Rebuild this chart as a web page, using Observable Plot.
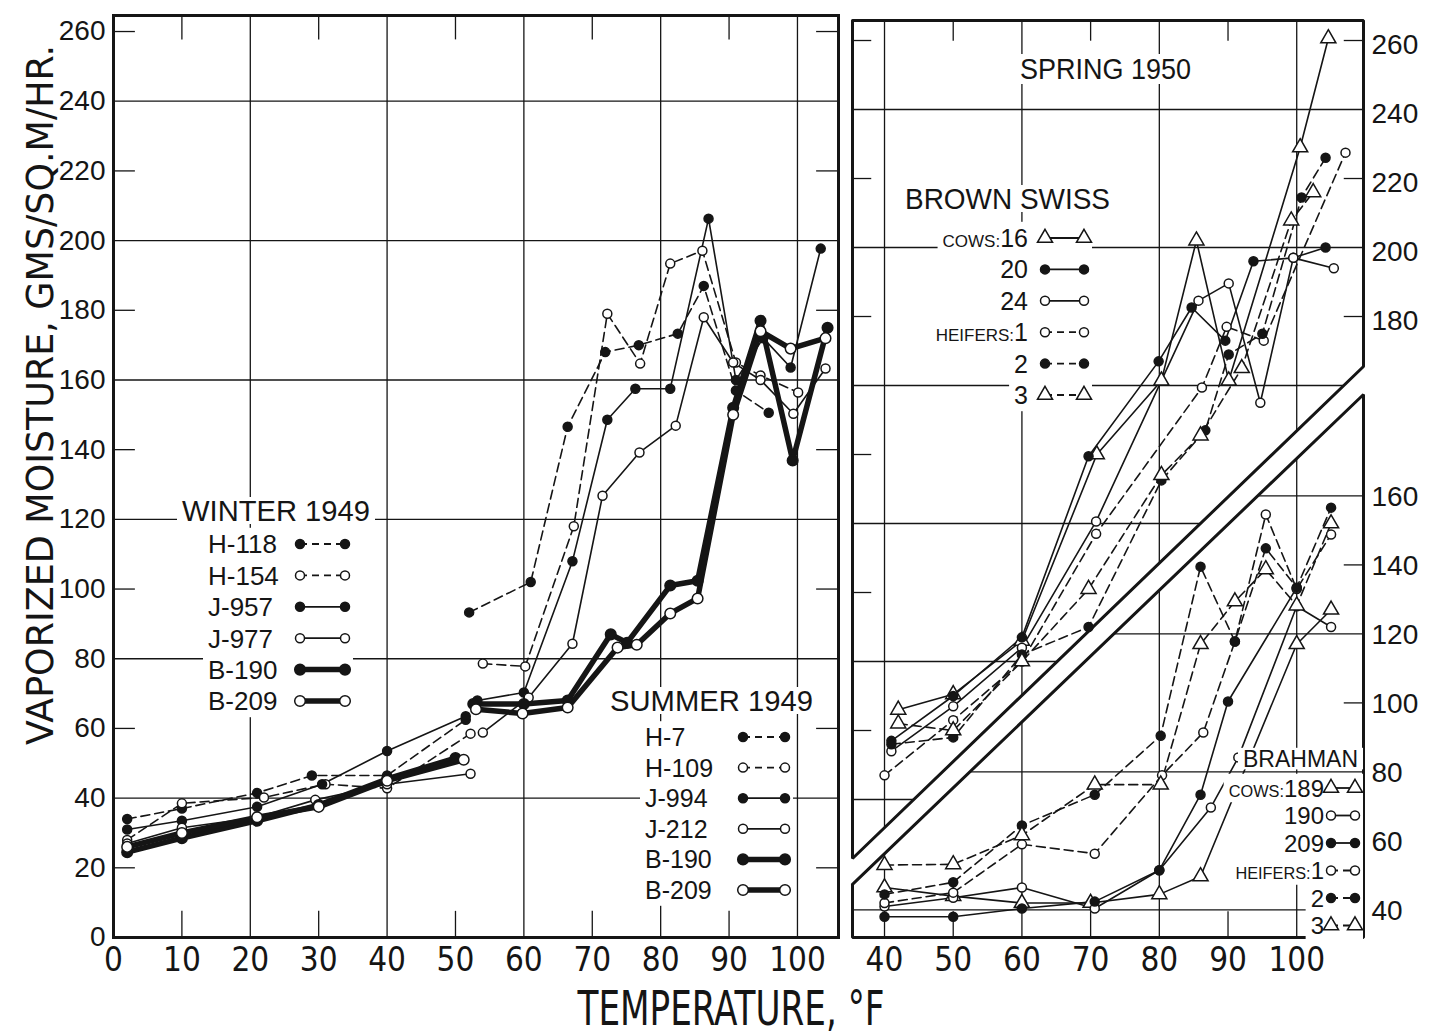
<!DOCTYPE html>
<html>
<head>
<meta charset="utf-8">
<title>Vaporized moisture and air temperature</title>
<script src="https://cdn.jsdelivr.net/npm/d3@7"></script>
<script src="https://cdn.jsdelivr.net/npm/@observablehq/plot@0.6"></script>
<style>
  html, body { margin: 0; padding: 0; background: #fff; }
  #chart { position: relative; width: 1437px; height: 1035px; overflow: hidden; background: #fff; }
  #chart > svg { position: absolute; top: 0; }
</style>
</head>
<body>
<div id="chart"></div>
<script>
// Vaporized moisture (g / sq m / hr) from the skin of individual cattle
// against air temperature (°F). Pairs are [temperature, moisture].

// ---- Winter 1949 ----
const winterNames = ["H-118", "H-154", "J-957", "J-977", "B-190", "B-209"];
const winterH118 = [[2,34],[10,37],[21,41.5],[29,46.5],[40,46.5],[51.5,62.5]];
const winterH154 = [[2,28],[10,38.5],[22,40.2],[31,44],[40,42.8],[52.2,58.5]];
const winterJ957 = [[2,31],[10,33.5],[21,37.5],[30.5,44],[40,53.5],[51.5,63.5]];
const winterJ977 = [[2,27],[10,31.5],[21,34.5],[29.5,39.5],[40,44],[52.2,47]];
const winterB190 = [[2,24.5],[10,28.5],[21,33.5],[30,38],[40,45.5],[50,51.5]];
const winterB209 = [[2,26],[10,30],[21,34.5],[30,37.5],[40,45],[51.2,51]];

// ---- Summer 1949 ----
const summerNames = ["H-7", "H-109", "J-994", "J-212", "B-190", "B-209"];
const summerH7   = [[52,93.3],[61,102],[66.4,146.6],[71.9,168],[76.8,170],[82.5,173.3],[86.3,187],[91,157],[95.8,150.6]];
const summerH109 = [[54,78.6],[60.2,77.8],[67.3,118],[72.2,179],[77,164.7],[81.4,193.4],[86.1,197.1],[91,165],[94.6,161.3],[100.1,156.4]];
const summerJ994 = [[53.2,68],[60,70.3],[67.1,108],[72.2,148.6],[76.3,157.5],[81.4,157.5],[87,206.3],[91,160],[95,172],[99,163.6],[103.4,197.7]];
const summerJ212 = [[54,58.8],[60.7,68.9],[67.1,84.3],[71.5,126.8],[76.9,139.2],[82.2,146.9],[86.3,178],[90.6,165],[94.6,160],[99.4,150.3],[104.1,163.3]];
const summerB190 = [[52.6,67],[60,67],[66.4,68],[72.7,87],[75.1,84.6],[81.4,101],[85.4,102.4],[90.6,152],[94.6,177],[99.3,136.9],[104.4,175]];
const summerB209 = [[53,65.5],[59.8,64.3],[66.4,66],[73.7,83.2],[76.5,84],[81.4,93],[85.4,97.3],[90.6,150],[94.6,174],[99,169],[104.1,172]];

// ---- Spring 1950, Brown Swiss ----
const swissNames  = ["16", "20", "24", "1", "2", "3"];
const swissGroups = ["COWS:", "", "", "HEIFERS:", "", ""];
const swissCow16    = [[42,66],[50,70.5],[60,86],[70.9,140],[80.3,161.4],[85.4,202],[90.1,161.4],[100.5,229],[104.6,260.6]];
const swissCow20    = [[41,57],[50,70],[60,87],[69.7,139.5],[79.9,167],[84.7,182.6],[89.6,173],[93.7,196],[99.5,197],[104.2,200]];
const swissCow24    = [[41,54],[50,67],[60,84],[70.8,120.6],[85.7,184.6],[90.1,189.6],[94.7,155],[99.5,197],[105.4,194]];
const swissHeifer1  = [[40,47],[50,63],[60,80],[70.8,117],[86.2,159.4],[89.8,177],[95.2,173],[107.1,227.5]];
const swissHeifer2  = [[41,56],[50,58],[60,82],[69.7,90],[80.3,132.5],[86.7,147],[90.1,169],[95,175],[100.7,214.5],[104.2,226]];
const swissHeifer3  = [[42,62],[50,60],[60,80],[69.7,101],[80.3,134],[86,145.5],[92,165],[99.2,207.8],[102.4,216]];

// ---- Spring 1950, Brahman ----
const brahmanNames  = ["189", "190", "209", "1", "2", "3"];
const brahmanGroups = ["COWS:", "", "", "HEIFERS:", "", ""];
const brahmanCow189   = [[40,46.5],[50,44],[60,42],[70,42],[80,44.5],[86,49.7],[100,117],[105,127]];
const brahmanCow190   = [[40,41],[50,43.5],[60,46.5],[70.6,40.4],[80,51.5],[87.5,69.7],[91.5,84.2],[100,128],[105,122]];
const brahmanCow209   = [[40,38],[50,38],[60,40.4],[70.6,42.4],[80,51.5],[86,73.4],[90,100.4],[100,133.4]];
const brahmanHeifer1  = [[40,42],[50,45],[60,59],[70.6,56.3],[80.4,79],[86.4,91.4],[91,117.8],[95.5,154.6],[100,133],[105,148.8]];
const brahmanHeifer2  = [[40,44.5],[50,48],[60,64.5],[70.6,73.4],[80.2,90.5],[86,139.5],[91,117.8],[95.5,144.8],[100,133.4],[105,156.6]];
const brahmanHeifer3  = [[40,53],[50,53.2],[60,61.6],[70.6,76.3],[80.2,76.3],[86,117],[91,129.4],[95.5,138.7],[100,128.2],[105,152]];

// Axis ticks
const leftYTicks   = [0,20,40,60,80,100,120,140,160,180,200,220,240,260];
const leftXTicks   = [0,10,20,30,40,50,60,70,80,90,100];
const springTicks  = [180,200,220,240,260];
const brahmanTicks = [40,60,80,100,120,140,160];
const rightXTicks  = [40,50,60,70,80,90,100];

// The Brahman section sits lower on the shared right-hand scale
const brahmanShift = 32;

// Diagonal band separating the Brown Swiss (upper) and Brahman (lower) sections
const dividerTop    = [[35.34, 22.9], [109.72, 165.5]];
const dividerBottom = [[35.34, 15.4], [109.72, 157.4]];

// ---- drawing styles ----
const INK = "#151515";
const SANS = '"Liberation Sans", Arial, Helvetica, sans-serif';
const NARROW = '"Liberation Sans Narrow", "Arial Narrow", "DejaVu Sans Condensed", sans-serif';

const kinds = {
  filledDashed:   {marker: "filled",   dash: true,  heavy: false},
  openDashed:     {marker: "open",     dash: true,  heavy: false},
  filledSolid:    {marker: "filled",   dash: false, heavy: false},
  openSolid:      {marker: "open",     dash: false, heavy: false},
  filledHeavy:    {marker: "filled",   dash: false, heavy: true},
  openHeavy:      {marker: "open",     dash: false, heavy: true},
  triangleSolid:  {marker: "triangle", dash: false, heavy: false},
  triangleDashed: {marker: "triangle", dash: true,  heavy: false}
};
const seasonKinds  = ["filledDashed", "openDashed", "filledSolid", "openSolid", "filledHeavy", "openHeavy"];
const swissKinds   = ["triangleSolid", "filledSolid", "openSolid", "openDashed", "filledDashed", "triangleDashed"];
const brahmanKinds = ["triangleSolid", "openSolid", "filledSolid", "openDashed", "filledDashed", "triangleDashed"];

const winterValues  = [winterH118, winterH154, winterJ957, winterJ977, winterB190, winterB209];
const summerValues  = [summerH7, summerH109, summerJ994, summerJ212, summerB190, summerB209];
const swissValues   = [swissCow16, swissCow20, swissCow24, swissHeifer1, swissHeifer2, swissHeifer3];
const brahmanValues = [brahmanCow189, brahmanCow190, brahmanCow209, brahmanHeifer1, brahmanHeifer2, brahmanHeifer3];

function markerRadius(k) { return k.marker === "triangle" ? 5.6 : (k.heavy ? 5.3 : 4.5); }

// One polyline plus its markers per animal
function seriesMarks(values, kindList, shift = 0) {
  const lines = [], dots = [];
  values.forEach((pts, i) => {
    const k = kinds[kindList[i]];
    const rows = pts.map(([t, v]) => ({t, v: v - shift}));
    lines.push(Plot.line(rows, {
      x: "t", y: "v", stroke: INK,
      strokeWidth: k.heavy ? 5.5 : 1.6,
      strokeDasharray: k.dash ? "9,5" : undefined,
      strokeLinejoin: "round"
    }));
    dots.push(Plot.dot(rows, {
      x: "t", y: "v", r: markerRadius(k),
      symbol: k.marker === "triangle" ? "triangle" : "circle",
      fill: k.marker === "filled" ? INK : "white",
      stroke: INK, strokeWidth: 1.5
    }));
  });
  return [...lines, ...dots];
}

const chart = d3.select("#chart");

// ---------- Left panel: winter and summer 1949 ----------
const leftX = [0, 106], leftY = [0, 264.6];
const leftMajorY = [40,80,120,160,200,240], leftMinorY = [20,60,100,140,180,220,260];
const leftMajorX = [20,40,60,80,100], leftMinorX = [10,30,50,70,90];

const left = Plot.plot({
  width: 850, height: 1035,
  marginLeft: 113, marginRight: 12, marginTop: 15, marginBottom: 98,
  x: {domain: leftX}, y: {domain: leftY},
  style: {fontFamily: SANS, color: INK, background: "transparent", overflow: "visible"},
  marks: [
    Plot.ruleY(leftMajorY, {stroke: INK, strokeWidth: 1.3}),
    Plot.ruleX(leftMajorX, {stroke: INK, strokeWidth: 1.3}),
    Plot.ruleY(leftMinorY, {x1: leftX[0], x2: leftX[0] + 3.2, stroke: INK, strokeWidth: 1.3}),
    Plot.ruleY(leftMinorY, {x1: leftX[1] - 3.2, x2: leftX[1], stroke: INK, strokeWidth: 1.3}),
    Plot.ruleX(leftMinorX, {y1: 0, y2: 7.5, stroke: INK, strokeWidth: 1.3}),
    Plot.ruleX(leftMinorX, {y1: leftY[1] - 7, y2: leftY[1], stroke: INK, strokeWidth: 1.3}),
    Plot.frame({stroke: INK, strokeWidth: 3}),
    ...seriesMarks(winterValues, seasonKinds),
    ...seriesMarks(summerValues, seasonKinds),
    Plot.axisY({ticks: leftYTicks, tickSize: 0, tickPadding: 8, fontSize: 28, label: null}),
    Plot.axisX({ticks: leftXTicks, tickSize: 0, tickPadding: 10, fontSize: 33, fontFamily: NARROW, label: null})
  ]
});
left.style.left = "0px";
chart.node().appendChild(left);

// ---------- Right panel: spring 1950 ----------
const rightX = [35.34, 109.72], rightY = [0, 265.8];
const [x0, x1] = rightX, yTop = rightY[1];
const lineAt = (seg, t) => seg[0][1] + (t - seg[0][0]) * (seg[1][1] - seg[0][1]) / (seg[1][0] - seg[0][0]);
const lineX = (seg, u) => seg[0][0] + (u - seg[0][1]) * (seg[1][0] - seg[0][0]) / (seg[1][1] - seg[0][1]);

const springMajor = [40,80,120,160,200,240], springMinor = [60,100,140,180,220,260];
const brahmanMajor = [40,80,120,160].map(v => v - brahmanShift);
const brahmanMinor = [60,100,140].map(v => v - brahmanShift);
const rightMajorX = [40,60,80,100], rightMinorX = [50,70,90];

const springRows = springMajor.map(u => ({u, a: x0, b: Math.min(x1, lineX(dividerTop, u))}));
const brahmanRows = brahmanMajor.map(u => ({u, a: Math.max(x0, lineX(dividerBottom, u)), b: x1}));
const springCols = rightMajorX.map(t => ({t, a: lineAt(dividerTop, t), b: yTop}));
const brahmanCols = rightMajorX.map(t => ({t, a: 0, b: lineAt(dividerBottom, t)}));
const minorTicks = [
  ...springMinor.filter(u => u > lineAt(dividerTop, x0)).map(u => ({u, a: x0, b: x0 + 2.8})),
  ...springMinor.filter(u => u > lineAt(dividerTop, x1)).map(u => ({u, a: x1 - 2.8, b: x1})),
  ...brahmanMinor.filter(u => u < lineAt(dividerBottom, x1)).map(u => ({u, a: x1 - 2.8, b: x1}))
];
const springOutline = [[x0, yTop], [x1, yTop], [x1, lineAt(dividerTop, x1)], [x0, lineAt(dividerTop, x0)], [x0, yTop]];
const brahmanOutline = [[x0, lineAt(dividerBottom, x0)], [x1, lineAt(dividerBottom, x1)], [x1, 0], [x0, 0], [x0, lineAt(dividerBottom, x0)]];

const right = Plot.plot({
  width: 597, height: 1035,
  marginLeft: 12, marginRight: 74, marginTop: 20, marginBottom: 98,
  x: {domain: rightX}, y: {domain: rightY},
  style: {fontFamily: SANS, color: INK, background: "transparent", overflow: "visible"},
  marks: [
    Plot.ruleY(springRows, {y: "u", x1: "a", x2: "b", stroke: INK, strokeWidth: 1.3}),
    Plot.ruleY(brahmanRows, {y: "u", x1: "a", x2: "b", stroke: INK, strokeWidth: 1.3}),
    Plot.ruleX(springCols, {x: "t", y1: "a", y2: "b", stroke: INK, strokeWidth: 1.3}),
    Plot.ruleX(brahmanCols, {x: "t", y1: "a", y2: "b", stroke: INK, strokeWidth: 1.3}),
    Plot.ruleY(minorTicks, {y: "u", x1: "a", x2: "b", stroke: INK, strokeWidth: 1.3}),
    Plot.ruleX(rightMinorX, {y1: 0, y2: 7.5, stroke: INK, strokeWidth: 1.3}),
    Plot.ruleX(rightMinorX, {y1: yTop - 6, y2: yTop, stroke: INK, strokeWidth: 1.3}),
    Plot.line(springOutline, {x: d => d[0], y: d => d[1], stroke: INK, strokeWidth: 3, strokeLinejoin: "miter"}),
    Plot.line(brahmanOutline, {x: d => d[0], y: d => d[1], stroke: INK, strokeWidth: 3, strokeLinejoin: "miter"}),
    ...seriesMarks(swissValues, swissKinds),
    ...seriesMarks(brahmanValues, brahmanKinds, brahmanShift),
    Plot.axisY({anchor: "right", ticks: springTicks, tickSize: 0, tickPadding: 8, fontSize: 28, dy: 5, label: null}),
    Plot.axisY({anchor: "right", ticks: brahmanTicks.map(v => v - brahmanShift), tickFormat: d => Math.round(d + brahmanShift),
                tickSize: 0, tickPadding: 8, fontSize: 28, dy: 1, label: null}),
    Plot.axisX({ticks: rightXTicks, tickSize: 0, tickPadding: 10, fontSize: 33, fontFamily: NARROW, label: null})
  ]
});
right.style.left = "840px";
chart.node().appendChild(right);

// ---------- Titles, axis labels and keys ----------
const overlay = d3.create("svg")
  .attr("width", 1437).attr("height", 1035)
  .attr("font-family", SANS).attr("fill", INK)
  .style("left", "0px").style("overflow", "visible");
chart.node().appendChild(overlay.node());

// White box behind a label so that the grid stops at the lettering
function clearBox(g, x, y, w, h) {
  g.insert("rect", ":first-child").attr("x", x).attr("y", y).attr("width", w).attr("height", h).attr("fill", "white");
}

function keySymbol(g, xa, xb, cy, k) {
  g.append("line").attr("x1", xa).attr("x2", xb).attr("y1", cy).attr("y2", cy)
    .attr("stroke", INK).attr("stroke-width", k.heavy ? 5.5 : 1.8)
    .attr("stroke-dasharray", k.dash ? "7,5" : null);
  const r = markerRadius(k);
  for (const x of [xa, xb]) {
    if (k.marker === "triangle") {
      g.append("path").attr("d", d3.symbol(d3.symbolTriangle, Math.PI * r * r)())
        .attr("transform", `translate(${x},${cy})`)
        .attr("fill", "white").attr("stroke", INK).attr("stroke-width", 1.5);
    } else {
      g.append("circle").attr("cx", x).attr("cy", cy).attr("r", r)
        .attr("fill", k.marker === "filled" ? INK : "white").attr("stroke", INK).attr("stroke-width", 1.5);
    }
  }
}

function drawKey(cfg) {
  const g = overlay.append("g");
  const title = g.append("text").attr("x", cfg.titleX).attr("y", cfg.titleY)
    .attr("font-size", cfg.titleSize).attr("textLength", cfg.titleLength).attr("lengthAdjust", "spacingAndGlyphs")
    .text(cfg.title);
  const tb = title.node().getBBox();
  clearBox(g, cfg.titleX - 5, cfg.titleY - cfg.titleSize * 0.8, cfg.titleLength + 10, cfg.titleSize * 0.9);
  cfg.names.forEach((name, i) => {
    const cy = cfg.firstRow + i * cfg.rowGap;
    const text = g.append("text").attr("x", cfg.labelX).attr("y", cy + 0.36 * cfg.size)
      .attr("font-size", cfg.size).attr("text-anchor", cfg.anchor);
    if (cfg.groups && cfg.groups[i]) text.append("tspan").attr("font-size", cfg.size * 0.68).text(cfg.groups[i]);
    text.append("tspan").text(name);
    const b = text.node().getBBox();
    const xl = b.x - 5, xr = cfg.symX[1] + 8;
    clearBox(g, xl, cy - cfg.rowGap / 2 - 0.5, xr - xl, cfg.rowGap + 1);
    keySymbol(g, cfg.symX[0], cfg.symX[1], cy, kinds[cfg.kinds[i]]);
  });
}

drawKey({title: "WINTER 1949", titleX: 182, titleY: 521, titleSize: 30, titleLength: 188,
  names: winterNames, kinds: seasonKinds, labelX: 208, anchor: "start", size: 26,
  firstRow: 544, rowGap: 31.4, symX: [300, 345]});
drawKey({title: "SUMMER 1949", titleX: 610, titleY: 711, titleSize: 30, titleLength: 203,
  names: summerNames, kinds: seasonKinds, labelX: 645, anchor: "start", size: 25,
  firstRow: 737, rowGap: 30.6, symX: [743, 785]});
drawKey({title: "BROWN SWISS", titleX: 905, titleY: 209, titleSize: 30, titleLength: 205,
  names: swissNames, groups: swissGroups, kinds: swissKinds, labelX: 1028, anchor: "end", size: 25,
  firstRow: 238, rowGap: 31.4, symX: [1045, 1084]});
drawKey({title: "BRAHMAN", titleX: 1243, titleY: 767, titleSize: 24, titleLength: 115,
  names: brahmanNames, groups: brahmanGroups, kinds: brahmanKinds, labelX: 1324, anchor: "end", size: 24,
  firstRow: 788, rowGap: 27.5, symX: [1331, 1355]});

const springG = overlay.append("g");
springG.append("text").attr("x", 1020).attr("y", 79).attr("font-size", 29)
  .attr("textLength", 171).attr("lengthAdjust", "spacingAndGlyphs").text("SPRING 1950");
clearBox(springG, 1014, 54, 183, 30);

overlay.append("text").attr("font-family", NARROW).attr("font-size", 38)
  .attr("text-anchor", "middle").attr("transform", "translate(53,395) rotate(-90)")
  .attr("textLength", 700).attr("lengthAdjust", "spacingAndGlyphs")
  .text("VAPORIZED MOISTURE, GMS/SQ.M/HR.");

overlay.append("text").attr("font-family", NARROW).attr("font-size", 48)
  .attr("text-anchor", "middle").attr("x", 731).attr("y", 1025)
  .attr("textLength", 307).attr("lengthAdjust", "spacingAndGlyphs")
  .text("TEMPERATURE, °F");
</script>
</body>
</html>
